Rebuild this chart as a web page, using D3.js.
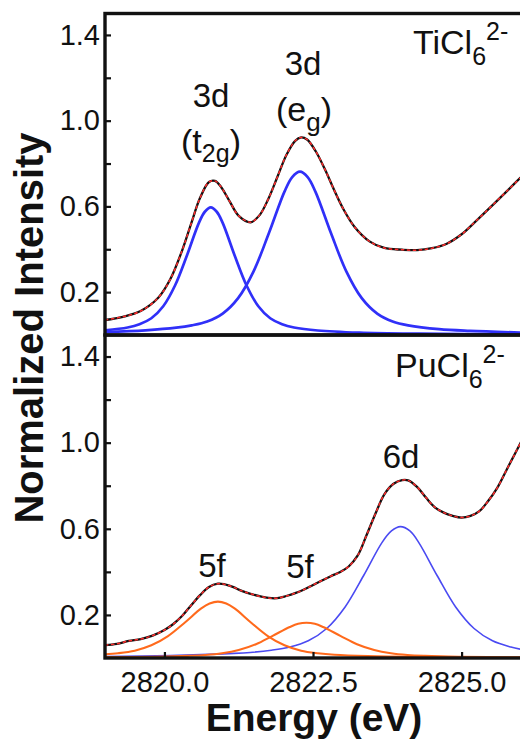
<!DOCTYPE html>
<html>
<head>
<meta charset="utf-8">
<script src="https://cdn.jsdelivr.net/npm/d3@7"></script>
<style>
  html, body { margin: 0; padding: 0; background: #fff; }
  svg { display: block; }
  text { font-family: "Liberation Sans", Arial, Helvetica, sans-serif; fill: #111; }
</style>
</head>
<body>
<svg id="chart" width="520" height="740"></svg>
<script>
// ---- TiCl6(2-) panel: [energy (eV), normalized intensity] ----
const tiSpectrum = [
  [2819.00,0.070],[2819.30,0.085],[2819.60,0.112],[2819.90,0.175],[2820.10,0.261],
  [2820.30,0.396],[2820.45,0.520],[2820.60,0.640],[2820.75,0.714],[2820.85,0.719],
  [2820.95,0.692],[2821.10,0.622],[2821.25,0.556],[2821.45,0.526],[2821.60,0.559],
  [2821.75,0.636],[2821.90,0.737],[2822.05,0.839],[2822.20,0.906],[2822.30,0.922],
  [2822.40,0.912],[2822.55,0.855],[2822.70,0.773],[2822.85,0.680],[2823.00,0.593],
  [2823.20,0.504],[2823.45,0.437],[2823.70,0.406],[2824.00,0.398],[2824.25,0.396],
  [2824.50,0.405],[2824.75,0.426],[2825.00,0.470],[2825.25,0.534],[2825.50,0.600],
  [2825.75,0.668],[2826.05,0.750]
];
const tiT2g = [
  [2819.00,0.022],[2819.38,0.035],[2819.58,0.050],[2819.78,0.078],[2819.98,0.134],
  [2820.18,0.232],[2820.38,0.372],[2820.58,0.523],[2820.68,0.575],[2820.78,0.595],
  [2820.88,0.575],[2820.98,0.523],[2821.18,0.372],[2821.38,0.232],[2821.58,0.134],
  [2821.78,0.078],[2821.98,0.050],[2822.18,0.035],[2822.58,0.021],[2823.28,0.011],
  [2824.28,0.006],[2826.05,0.003]
];
const tiEg = [
  [2819.00,0.014],[2819.68,0.022],[2820.20,0.034],[2820.46,0.045],[2820.72,0.063],
  [2820.98,0.100],[2821.24,0.172],[2821.50,0.297],[2821.76,0.477],[2822.02,0.669],
  [2822.15,0.737],[2822.28,0.762],[2822.41,0.737],[2822.54,0.669],[2822.80,0.477],
  [2823.06,0.297],[2823.32,0.172],[2823.58,0.100],[2823.84,0.063],[2824.10,0.045],
  [2824.62,0.027],[2825.14,0.019],[2826.05,0.011]
];

// ---- PuCl6(2-) panel ----
const puSpectrum = [
  [2819.00,0.060],[2819.20,0.066],[2819.40,0.079],[2819.60,0.088],[2819.80,0.104],
  [2820.00,0.130],[2820.15,0.158],[2820.30,0.196],[2820.45,0.245],[2820.60,0.292],
  [2820.75,0.330],[2820.90,0.345],[2821.00,0.343],[2821.15,0.330],[2821.30,0.312],
  [2821.45,0.298],[2821.60,0.287],[2821.75,0.279],[2821.90,0.278],[2822.05,0.288],
  [2822.20,0.301],[2822.35,0.318],[2822.50,0.339],[2822.65,0.360],[2822.80,0.380],
  [2822.95,0.398],[2823.10,0.425],[2823.25,0.475],[2823.40,0.570],[2823.55,0.670],
  [2823.70,0.760],[2823.85,0.808],[2824.00,0.826],[2824.10,0.825],[2824.25,0.795],
  [2824.40,0.745],[2824.55,0.700],[2824.70,0.675],[2824.85,0.660],[2825.00,0.652],
  [2825.15,0.660],[2825.30,0.682],[2825.45,0.730],[2825.60,0.790],[2825.75,0.870],
  [2825.90,0.950],[2826.05,1.030]
];
const pu5fA = [
  [2819.00,0.017],[2819.22,0.022],[2819.50,0.034],[2819.78,0.059],[2820.06,0.102],
  [2820.34,0.164],[2820.62,0.230],[2820.76,0.253],[2820.90,0.262],[2821.04,0.253],
  [2821.18,0.230],[2821.46,0.164],[2821.74,0.102],[2822.02,0.059],[2822.30,0.034],
  [2822.58,0.022],[2822.86,0.015],[2823.42,0.009],[2824.40,0.005],[2826.05,0.002]
];
const pu5fB = [
  [2819.00,0.004],[2819.83,0.006],[2820.40,0.010],[2820.69,0.014],[2820.97,0.022],
  [2821.25,0.037],[2821.54,0.064],[2821.82,0.103],[2822.11,0.144],[2822.25,0.159],
  [2822.39,0.164],[2822.53,0.159],[2822.67,0.144],[2822.96,0.103],[2823.24,0.064],
  [2823.53,0.037],[2823.81,0.022],[2824.09,0.014],[2824.38,0.010],[2824.95,0.006],
  [2826.05,0.003]
];
const pu6d = [
  [2819.00,0.007],[2820.10,0.011],[2820.87,0.018],[2821.49,0.027],[2821.80,0.036],
  [2822.11,0.051],[2822.42,0.080],[2822.73,0.137],[2823.04,0.237],[2823.35,0.382],
  [2823.66,0.536],[2823.82,0.590],[2823.97,0.610],[2824.13,0.590],[2824.28,0.536],
  [2824.59,0.382],[2824.90,0.237],[2825.21,0.137],[2825.52,0.080],[2825.83,0.051],
  [2826.05,0.038]
];

// ---- axes ----
const energyDomain = [2819, 2826.05];
const energyTicks = [2820.0, 2822.5, 2825.0];
const intensityDomain = [0, 1.5];
const intensityTicks = [0.2, 0.4, 0.6, 0.8, 1.0, 1.2, 1.4];
const labelledTicks = [0.2, 0.6, 1.0, 1.4];

const svg = d3.select("#chart");
const left = 105, right = 524;
const x = d3.scaleLinear().domain(energyDomain).range([left, right]);
const yTop = d3.scaleLinear().domain(intensityDomain).range([335, 13.5]);
const yBot = d3.scaleLinear().domain(intensityDomain).range([658, 335]);

const defs = svg.append("defs");
function clipFor(id, y) {
  defs.append("clipPath").attr("id", id)
    .append("rect")
    .attr("x", left).attr("y", y.range()[1])
    .attr("width", right - left).attr("height", y.range()[0] - y.range()[1]);
}
clipFor("clip-top", yTop);
clipFor("clip-bot", yBot);

function drawPanel(y, clipId, comps, spectrum) {
  const line = d3.line()
    .x(d => x(d[0])).y(d => y(d[1]))
    .curve(d3.curveCatmullRom.alpha(0.5));
  const g = svg.append("g").attr("clip-path", `url(#${clipId})`);
  comps.forEach(c => {
    g.append("path").datum(c.data)
      .attr("d", line).attr("fill", "none")
      .attr("stroke", c.color).attr("stroke-width", c.width)
      .attr("stroke-linejoin", "round");
  });
  // measured spectrum (black) with the fit (red dashes) laid over it
  g.append("path").datum(spectrum).attr("d", line).attr("fill", "none")
    .attr("stroke", "#111").attr("stroke-width", 2.3);
  g.append("path").datum(spectrum).attr("d", line).attr("fill", "none")
    .attr("stroke", "#ff2b2b").attr("stroke-width", 1.5)
    .attr("stroke-dasharray", "3.5,2.5");

  // y axis with inward ticks
  const ax = svg.append("g").attr("transform", `translate(${left},0)`)
    .call(d3.axisLeft(y).tickValues(intensityTicks).tickSize(-6).tickPadding(5)
      .tickFormat(v => labelledTicks.some(t => Math.abs(t - v) < 1e-9) ? d3.format(".1f")(v) : ""));
  ax.select(".domain").remove();
  ax.selectAll(".tick line").attr("stroke", "#111").attr("stroke-width", 2.2);
  ax.selectAll(".tick text").style("font-size", "29px")
    .style("font-family", "'Liberation Sans', Arial, sans-serif").attr("fill", "#111");

  // panel frame
  svg.append("rect")
    .attr("x", left).attr("y", y.range()[1])
    .attr("width", right - left).attr("height", y.range()[0] - y.range()[1])
    .attr("fill", "none").attr("stroke", "#111").attr("stroke-width", 3.4);
}

drawPanel(yTop, "clip-top", [
  { data: tiT2g, color: "#3030f8", width: 2.7 },
  { data: tiEg,  color: "#3030f8", width: 2.7 }
], tiSpectrum);

drawPanel(yBot, "clip-bot", [
  { data: pu6d,  color: "#4a4af2", width: 1.6 },
  { data: pu5fA, color: "#ff6a1c", width: 2.1 },
  { data: pu5fB, color: "#ff6a1c", width: 2.1 }
], puSpectrum);

// energy axis on the lower panel
const xa = svg.append("g").attr("transform", `translate(0,${yBot.range()[0]})`)
  .call(d3.axisBottom(x).tickValues(energyTicks).tickSize(-6).tickPadding(13)
    .tickFormat(d3.format(".1f")));
xa.select(".domain").remove();
xa.selectAll(".tick line").attr("stroke", "#111").attr("stroke-width", 2.2);
xa.selectAll(".tick text").style("font-size", "29px")
  .style("font-family", "'Liberation Sans', Arial, sans-serif").attr("fill", "#111");

// axis titles
svg.append("text")
  .attr("transform", "translate(43,328) rotate(-90)")
  .attr("text-anchor", "middle")
  .style("font-size", "40px").style("font-weight", "bold")
  .text("Normalized Intensity");
svg.append("text")
  .attr("x", 314).attr("y", 731)
  .attr("text-anchor", "middle")
  .style("font-size", "39px").style("font-weight", "bold")
  .text("Energy (eV)");

// peak annotations
function note(xp, yp, parts, size) {
  const t = svg.append("text").attr("x", xp).attr("y", yp)
    .attr("text-anchor", "middle").style("font-size", size + "px");
  parts.forEach(p => {
    const s = t.append("tspan").text(p.t);
    if (p.dy) s.attr("dy", p.dy);
    if (p.fs) s.style("font-size", p.fs + "px");
  });
  return t;
}
note(211, 107, [{ t: "3d" }], 33);
note(211, 153, [{ t: "(t" }, { t: "2g", dy: 9, fs: 25 }, { t: ")", dy: -9 }], 34);
note(303, 75, [{ t: "3d" }], 33);
note(304, 121, [{ t: "(e" }, { t: "g", dy: 10, fs: 26 }, { t: ")", dy: -10 }], 34);
note(401, 468, [{ t: "6d" }], 33);
note(212, 577, [{ t: "5f" }], 33);
note(300, 578, [{ t: "5f" }], 33);

// complex ion labels
function ion(xp, yp, base) {
  const t = svg.append("text").attr("x", xp).attr("y", yp).style("font-size", "34px");
  t.append("tspan").text(base);
  t.append("tspan").text("6").attr("dy", 11).style("font-size", "25px");
  t.append("tspan").text("2-").attr("dy", -25).style("font-size", "25px");
}
ion(413, 54, "TiCl");
ion(395, 377, "PuCl");
</script>
</body>
</html>
